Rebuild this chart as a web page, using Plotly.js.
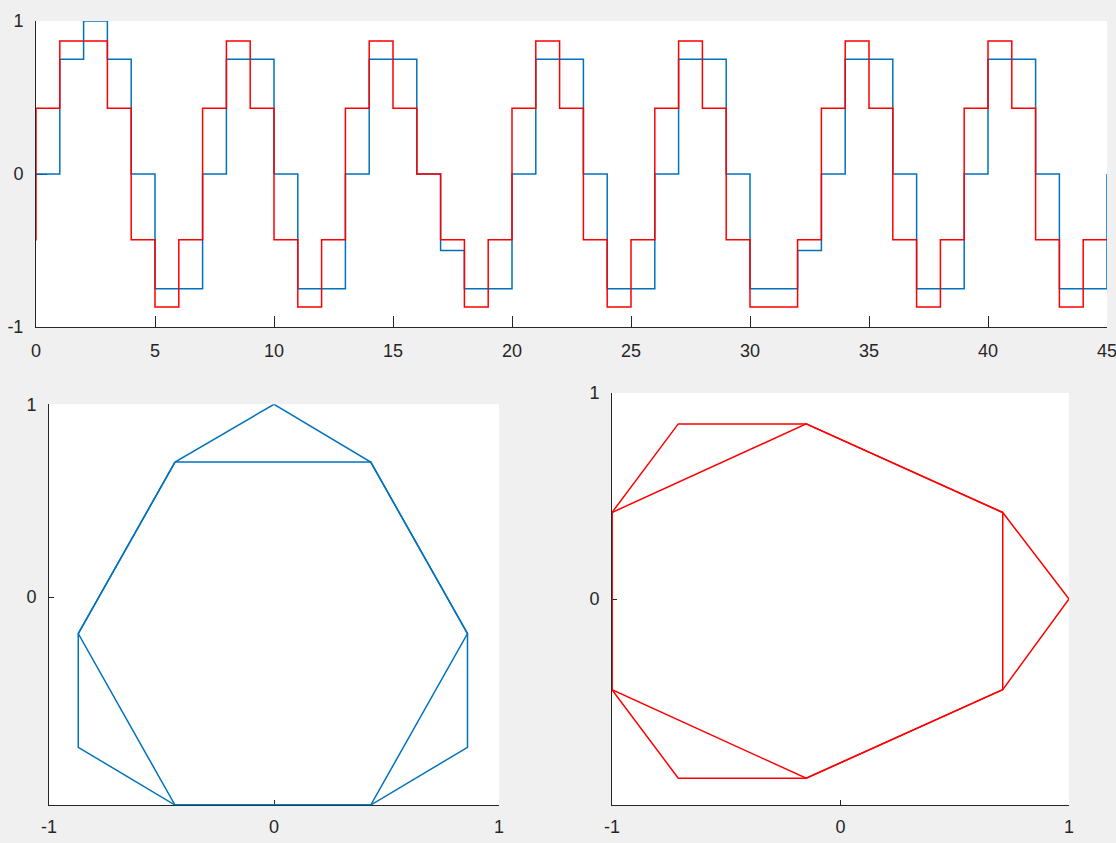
<!DOCTYPE html>
<html>
<head>
<meta charset="utf-8">
<script src="https://cdn.plot.ly/plotly-3.0.1.min.js"></script>
<style>
  html, body { margin: 0; padding: 0; background: #f0f0f0; }
  #chart { width: 1116px; height: 843px; }
</style>
</head>
<body>
<div id="chart"></div>
<script>
// ---- Top panel: two stair signals ----
const blueX = [0,1,2,3,4,5,6,7,8,9,10,11,12,13,14,15,16,17,18,19,20,21,22,23,24,25,26,27,28,29,30,31,32,33,34,35,36,37,38,39,40,41,42,43,44,45];
const blueY = [0,0.75,1,0.75,0,-0.75,-0.75,0,0.75,0.75,0,-0.75,-0.75,0,0.75,0.75,0,-0.5,-0.75,-0.75,0,0.75,0.75,0,-0.75,-0.75,0,0.75,0.75,0,-0.75,-0.75,-0.5,0,0.75,0.75,0,-0.75,-0.75,0,0.75,0.75,0,-0.75,-0.75,0];
const redX = [-1,0,1,2,3,4,5,6,7,8,9,10,11,12,13,14,15,16,17,18,19,20,21,22,23,24,25,26,27,28,29,30,31,32,33,34,35,36,37,38,39,40,41,42,43,44,45];
const redY = [-0.43,0.43,0.87,0.87,0.43,-0.43,-0.87,-0.43,0.43,0.87,0.43,-0.43,-0.87,-0.43,0.43,0.87,0.43,0,-0.43,-0.87,-0.43,0.43,0.87,0.43,-0.43,-0.87,-0.43,0.43,0.87,0.43,-0.43,-0.87,-0.87,-0.43,0.43,0.87,0.43,-0.43,-0.87,-0.43,0.43,0.87,0.43,-0.43,-0.87,-0.43,-0.43];
const topXTicks = [0,5,10,15,20,25,30,35,40,45];
const topXLabels = ['0','5','10','15','20','25','30','35','40','45'];
const topYTicks = [-1,0,1];
const topYLabels = ['-1','0','1'];

// ---- Bottom-left panel: blue polygon ----
const leftOuterX = [0,0.43,0.86,0.86,0.43,-0.44,-0.87,-0.87,-0.44,0];
const leftOuterY = [1,0.70,-0.19,-0.78,-1.08,-1.08,-0.78,-0.19,0.70,1];
const leftHexX = [-0.44,0.43,0.86,0.43,-0.44,-0.87,-0.44];
const leftHexY = [0.70,0.70,-0.19,-1.08,-1.08,-0.19,0.70];

// ---- Bottom-right panel: red polygon ----
const rightOuterX = [1,0.71,-0.15,-0.71,-1,-1,-0.71,-0.15,0.71,1];
const rightOuterY = [0,0.42,0.85,0.85,0.42,-0.44,-0.87,-0.87,-0.44,0];
const rightHexX = [0.71,-0.15,-1,-1,-0.15,0.71,0.71];
const rightHexY = [0.42,0.85,0.42,-0.44,-0.87,-0.44,0.42];

const bottomXTicks = [-1,0,1];
const bottomXLabels = ['-1','0','1'];
const bottomYTicks = [0,1];
const bottomYLabels = ['0','1'];

const BLUE = '#0072BD';
const RED = '#FF0000';
const AXC = '#262626';
const FONT = {family: 'Liberation Sans, Arial, Helvetica, sans-serif', size: 18, color: AXC};

const traces = [
  {x: blueX, y: blueY, type: 'scatter', mode: 'lines', line: {color: BLUE, width: 1.5, shape: 'hv'}, xaxis: 'x', yaxis: 'y', hoverinfo: 'skip'},
  {x: redX, y: redY, type: 'scatter', mode: 'lines', line: {color: RED, width: 1.5, shape: 'hv'}, xaxis: 'x', yaxis: 'y', hoverinfo: 'skip'},
  {x: leftOuterX, y: leftOuterY, type: 'scatter', mode: 'lines', line: {color: BLUE, width: 1.5}, xaxis: 'x2', yaxis: 'y2', hoverinfo: 'skip'},
  {x: leftHexX, y: leftHexY, type: 'scatter', mode: 'lines', line: {color: BLUE, width: 1.5}, xaxis: 'x2', yaxis: 'y2', hoverinfo: 'skip'},
  {x: rightOuterX, y: rightOuterY, type: 'scatter', mode: 'lines', line: {color: RED, width: 1.5}, xaxis: 'x3', yaxis: 'y3', hoverinfo: 'skip'},
  {x: rightHexX, y: rightHexY, type: 'scatter', mode: 'lines', line: {color: RED, width: 1.5}, xaxis: 'x3', yaxis: 'y3', hoverinfo: 'skip'}
];

function ax(extra) {
  return Object.assign({
    showgrid: false, zeroline: false, showline: true, linecolor: AXC, linewidth: 1,
    ticks: 'inside', tickcolor: AXC, tickwidth: 1, mirror: false,
    tickfont: FONT, layer: 'below traces', fixedrange: true,
    ticklabeloverflow: 'allow'
  }, extra);
}

const W = 1116, H = 843;
const layout = {
  width: W, height: H,
  margin: {l: 0, r: 0, t: 0, b: 0},
  paper_bgcolor: '#f0f0f0',
  plot_bgcolor: '#ffffff',
  showlegend: false,
  font: FONT,
  xaxis: ax({domain: [36/W, 1107/W], range: [0, 45], tickvals: topXTicks, ticktext: topXLabels, ticklen: 11, anchor: 'y', ticklabelstandoff: 7}),
  yaxis: ax({domain: [(H-327)/H, (H-21)/H], range: [-1, 1], tickvals: topYTicks, ticktext: topYLabels, ticklen: 11, anchor: 'x', ticklabelstandoff: 8}),
  xaxis2: ax({domain: [49/W, 499/W], range: [-1, 1], tickvals: bottomXTicks, ticktext: bottomXLabels, ticklen: 5, anchor: 'y2', ticklabelstandoff: 5}),
  yaxis2: ax({domain: [(H-805.3)/H, (H-404.3)/H], range: [-1.081, 1], tickvals: bottomYTicks, ticktext: bottomYLabels, ticklen: 5, anchor: 'x2', ticklabelstandoff: 8}),
  xaxis3: ax({domain: [612/W, 1069/W], range: [-1, 1], tickvals: bottomXTicks, ticktext: bottomXLabels, ticklen: 5, anchor: 'y3', ticklabelstandoff: 5}),
  yaxis3: ax({domain: [(H-805)/H, (H-393)/H], range: [-1, 1], tickvals: bottomYTicks, ticktext: bottomYLabels, ticklen: 5, anchor: 'x3', ticklabelstandoff: 8})
};

Plotly.newPlot('chart', traces, layout, {staticPlot: true, displayModeBar: false});
</script>
</body>
</html>
